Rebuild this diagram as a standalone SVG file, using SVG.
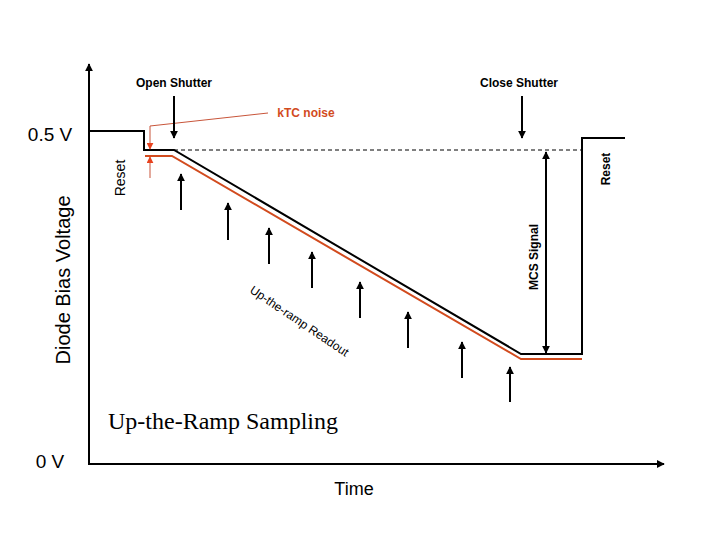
<svg xmlns="http://www.w3.org/2000/svg" width="720" height="540" viewBox="0 0 720 540">
<style>
.ln{fill:none;stroke:#000;stroke-width:2}
.rd{fill:none;stroke:#d24b1e;stroke-width:2}
.rt{fill:none;stroke:#c8553a;stroke-width:1}
.ar{stroke:#000;stroke-width:2;fill:none}
.lab{font-family:"Liberation Sans",Arial,sans-serif;font-size:12px;font-weight:bold;fill:#000}
.reg{font-family:"Liberation Sans",Arial,sans-serif;fill:#000}
</style>
<defs>
<marker id="ah" viewBox="0 0 10 10" refX="9" refY="5" markerWidth="4" markerHeight="4" orient="auto-start-reverse"><path d="M0,0 L10,5 L0,10 z" fill="#000"/></marker>
<marker id="rh" viewBox="0 0 10 10" refX="9" refY="5" markerWidth="7" markerHeight="7" orient="auto-start-reverse"><path d="M0,0 L10,5 L0,10 z" fill="#e8421e"/></marker>
</defs>
<rect width="720" height="540" fill="#fff"/>
<g id="axes">
<line class="ar" x1="89" y1="464" x2="89" y2="64" marker-end="url(#ah)"/>
<line class="ar" x1="88" y1="464" x2="664" y2="464" marker-end="url(#ah)"/>
</g>
<g id="labels">
<text class="reg" x="50" y="141" font-size="19" text-anchor="middle">0.5 V</text>
<text class="reg" x="50" y="468" font-size="19" text-anchor="middle">0 V</text>
<text class="reg" font-size="20" text-anchor="middle" transform="translate(70,280) rotate(-90)">Diode Bias Voltage</text>
<text class="reg" x="354" y="495" font-size="18" text-anchor="middle">Time</text>
<text x="108" y="429" font-family="'Liberation Serif','Times New Roman',serif" font-size="24" fill="#000">Up-the-Ramp Sampling</text>
<text class="reg" font-size="14" text-anchor="middle" transform="translate(125,178) rotate(-90)">Reset</text>
<text class="lab" font-size="13" text-anchor="middle" transform="translate(610,169) rotate(-90)">Reset</text>
<text class="lab" font-size="11" text-anchor="middle" transform="translate(538,257) rotate(-90)">MCS Signal</text>
<text class="reg" font-size="12" transform="translate(249,292) rotate(34)">Up-the-ramp Readout</text>
</g>
<g id="signal">
<polyline class="ln" points="90,131 144,131 144,150 174,150 521,354 582,354 582,138 625,138"/>
<polyline class="rd" points="145,156 172,156 521,359 582,359"/>
<line x1="174" y1="150" x2="582" y2="150" stroke="#000" stroke-width="1" stroke-dasharray="4,3"/>
</g>
<g id="ktc">
<polyline class="rt" points="268,113 150,126 150,149" marker-end="url(#rh)"/>
<line class="rt" x1="150" y1="178" x2="150" y2="157" marker-end="url(#rh)"/>
<text x="306" y="117" font-family="'Liberation Sans',Arial,sans-serif" font-size="12" font-weight="bold" fill="#d24b1e" text-anchor="middle">kTC noise</text>
</g>
<g id="shutter">
<text class="lab" x="174" y="87" text-anchor="middle">Open Shutter</text>
<line class="ar" x1="174" y1="96" x2="174" y2="138" marker-end="url(#ah)"/>
<text class="lab" x="519" y="87" text-anchor="middle">Close Shutter</text>
<line class="ar" x1="522" y1="96" x2="522" y2="138" marker-end="url(#ah)"/>
</g>
<g id="readouts">
<line class="ar" x1="181" y1="210" x2="181" y2="174" marker-end="url(#ah)"/>
<line class="ar" x1="228" y1="240" x2="228" y2="203" marker-end="url(#ah)"/>
<line class="ar" x1="269" y1="264" x2="269" y2="228" marker-end="url(#ah)"/>
<line class="ar" x1="312" y1="288" x2="312" y2="252" marker-end="url(#ah)"/>
<line class="ar" x1="360" y1="318" x2="360" y2="282" marker-end="url(#ah)"/>
<line class="ar" x1="408" y1="348" x2="408" y2="312" marker-end="url(#ah)"/>
<line class="ar" x1="462" y1="378" x2="462" y2="342" marker-end="url(#ah)"/>
<line class="ar" x1="510" y1="402" x2="510" y2="367" marker-end="url(#ah)"/>
</g>
<g id="mcs">
<line class="ar" x1="546" y1="152" x2="546" y2="353" marker-start="url(#ah)" marker-end="url(#ah)"/>
</g>
</svg>
